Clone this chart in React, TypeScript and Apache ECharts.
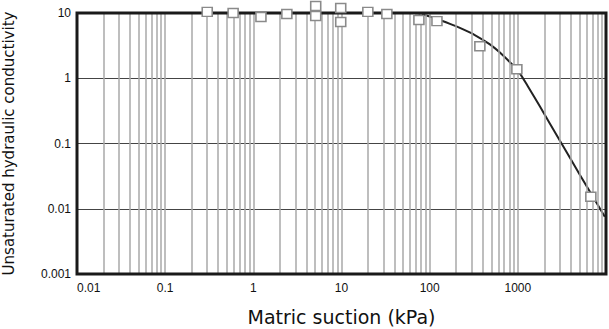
import React, { useEffect, useRef } from "react";
import * as echarts from "echarts";

// Measured points (matric suction kPa, unsaturated hydraulic conductivity)
const measuredSuction = [0.3, 0.59, 1.22, 2.4, 5.1, 5.1, 9.8, 9.8, 19.9, 32.7, 75.5, 121, 371, 975, 6730];
const measuredK = [10.4, 10.0, 8.7, 9.65, 12.8, 9.0, 11.9, 7.3, 10.4, 9.65, 7.8, 7.5, 3.1, 1.37, 0.0153];

// Fitted curve
const curveSuction = [0.01, 1, 10, 68, 88.3, 121, 170, 220, 325, 482, 676, 878, 1054, 1298, 1776, 2992, 5046, 9690];
const curveK = [10, 10, 10, 10, 9.3, 8.09, 6.8, 5.9, 4.6, 3.3, 2.26, 1.58, 1.19, 0.753, 0.371, 0.111, 0.0333, 0.00753];

// Axis ranges
const xRange = [0.01, 10000];
const yRange = [0.001, 10];

// Vertical grid lines at 1..9 x 10^k
const decadesX = [0.01, 0.1, 1, 10, 100, 1000];
const multipliers = [1, 2, 3, 4, 5, 6, 7, 8, 9];

const fmt = (v: number) => {
  const n = Number(Number(v).toPrecision(1));
  return String(n);
};

export default function App() {
  const ref = useRef<HTMLDivElement>(null);
  useEffect(() => {
    if (!ref.current) return;
    const chart = echarts.init(ref.current, null, { renderer: "svg" });
    const gridVals: number[] = [];
    decadesX.forEach((d) => multipliers.forEach((m) => gridVals.push(Number((d * m).toPrecision(2)))));
    gridVals.push(xRange[1]);
    const font = "'Liberation Sans', Arial, sans-serif";
    const titleFont = "'DejaVu Sans', 'Liberation Sans', sans-serif";
    chart.setOption({
      animation: false,
      backgroundColor: "#ffffff",
      grid: {
        left: 77,
        right: 3,
        top: 13,
        bottom: 55,
        outerBoundsMode: "none",
        containLabel: false,
        show: true,
        borderColor: "#1a1a1a",
        borderWidth: 3,
        backgroundColor: "transparent",
        z: 10,
      },
      xAxis: {
        type: "log",
        logBase: 10,
        min: xRange[0],
        max: xRange[1],
        name: "Matric suction (kPa)",
        nameLocation: "middle",
        nameGap: 33,
        nameTextStyle: { fontFamily: titleFont, fontSize: 19, color: "#111" },
        axisLine: { show: false },
        axisTick: { show: false },
        splitLine: { show: false },
        axisLabel: {
          fontFamily: font,
          fontSize: 12,
          color: "#111",
          margin: 8,
          showMaxLabel: false,
          alignMinLabel: "left",
          formatter: fmt,
        },
      },
      yAxis: {
        type: "log",
        logBase: 10,
        min: yRange[0],
        max: yRange[1],
        name: "Unsaturated hydraulic conductivity",
        nameLocation: "middle",
        nameGap: 61,
        nameTextStyle: { fontFamily: titleFont, fontSize: 15, color: "#111" },
        axisLine: { show: false },
        axisTick: { show: false },
        splitLine: { show: true, lineStyle: { color: "#444", width: 1 } },
        axisLabel: {
          fontFamily: font,
          fontSize: 12,
          color: "#111",
          margin: 6,
          formatter: fmt,
        },
      },
      series: [
        {
          type: "line",
          data: [],
          z: 1,
          silent: true,
          markLine: {
            silent: true,
            symbol: "none",
            label: { show: false },
            lineStyle: { color: "#a8a8a8", width: 1.5, type: "solid" },
            data: gridVals.map((v) => ({ xAxis: v })),
          },
        },
        {
          type: "line",
          data: curveSuction.map((x, i) => [x, curveK[i]]),
          showSymbol: false,
          symbol: "none",
          smooth: 0.25,
          z: 3,
          lineStyle: { color: "#222", width: 2 },
        },
        {
          type: "scatter",
          data: measuredSuction.map((x, i) => [x, measuredK[i]]),
          symbol: "rect",
          symbolSize: [10, 9],
          clip: false,
          z: 12,
          itemStyle: { color: "#ffffff", borderColor: "#8a8a8a", borderWidth: 1.5, opacity: 1 },
        },
      ],
    });
    return () => chart.dispose();
  }, []);
  return (
    <div
      ref={ref}
      style={{ position: "absolute", left: 0, top: 0, width: 609, height: 329, background: "#fff" }}
    />
  );
}
